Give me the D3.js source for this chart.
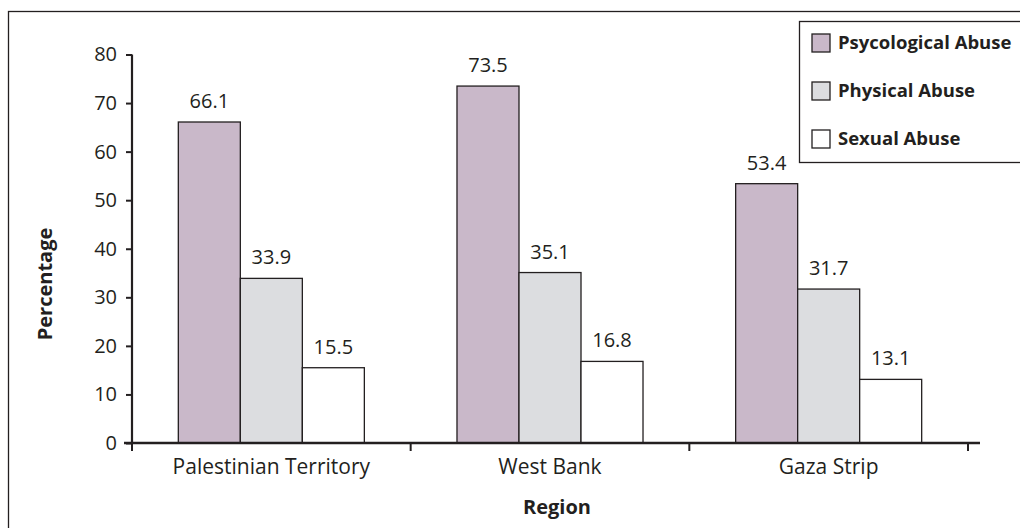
<!DOCTYPE html>
<html>
<head>
<meta charset="utf-8">
<script src="https://cdn.jsdelivr.net/npm/d3@7"></script>
<style>
  html, body { margin: 0; padding: 0; background: #fff; }
  svg text { font-family: "Open Sans", sans-serif; fill: #231f20; }
</style>
</head>
<body>
<svg id="chart" width="1020" height="528"></svg>
<script>
const categories = ["Palestinian Territory", "West Bank", "Gaza Strip"];
const seriesNames = ["Psycological Abuse", "Physical Abuse", "Sexual Abuse"];
const psychological = [66.1, 73.5, 53.4];
const physical = [33.9, 35.1, 31.7];
const sexual = [15.5, 16.8, 13.1];
const yTicks = [0, 10, 20, 30, 40, 50, 60, 70, 80];
const colors = ["#c9b8c9", "#dcdde0", "#ffffff"];

const seriesValues = [psychological, physical, sexual];
const data = categories.map((c, i) => ({
  category: c,
  values: seriesNames.map((s, j) => ({ series: s, value: seriesValues[j][i], idx: j }))
}));

const svg = d3.select("#chart");
const ink = "#231f20";

// outer frame
svg.append("rect").attr("x", 8.5).attr("y", 11.5).attr("width", 1040).attr("height", 560)
  .attr("fill", "none").attr("stroke", ink).attr("stroke-width", 1.3);

const pLeft = 132, pRight = 968, pTop = 54.5, pBottom = 443;

const x0 = d3.scaleBand().domain(categories).range([pLeft, pRight]).paddingInner(0).paddingOuter(0);
const x1 = d3.scaleBand().domain(seriesNames).range([0, x0.bandwidth()]).paddingInner(0).paddingOuter(0.747);
const y = d3.scaleLinear().domain([0, 80]).range([pBottom, pTop]);

// bars
const groups = svg.append("g").selectAll("g").data(data).join("g")
  .attr("transform", d => `translate(${x0(d.category)},0)`);

groups.selectAll("rect").data(d => d.values).join("rect")
  .attr("x", d => x1(d.series))
  .attr("y", d => y(d.value))
  .attr("width", x1.bandwidth())
  .attr("height", d => y(0) - y(d.value))
  .attr("fill", d => colors[d.idx])
  .attr("stroke", ink).attr("stroke-width", 1.3);

groups.selectAll("text.val").data(d => d.values).join("text")
  .attr("class", "val")
  .attr("x", d => x1(d.series) + x1.bandwidth() / 2)
  .attr("y", d => y(d.value) - 14)
  .attr("text-anchor", "middle")
  .style("font-size", "20px")
  .text(d => d.value.toFixed(1));

// y axis
const yAxis = d3.axisLeft(y).tickValues(yTicks).tickSize(6).tickPadding(9);
const gy = svg.append("g").attr("transform", `translate(${pLeft},0)`).call(yAxis);
gy.select(".domain").attr("d", `M0,${pTop}V${pBottom}`).attr("stroke", ink).attr("stroke-width", 2.2);
gy.selectAll(".tick line").attr("stroke", ink).attr("stroke-width", 2);
gy.selectAll(".tick text").style("font-size", "20px").style("font-family", "Open Sans").attr("fill", ink);

// x axis
const xTickPositions = categories.map(c => x0(c)).concat([pRight]);
const gx = svg.append("g");
gx.append("line").attr("x1", pLeft - 8).attr("x2", 980).attr("y1", pBottom).attr("y2", pBottom)
  .attr("stroke", ink).attr("stroke-width", 2.5);
gx.selectAll("line.tick").data(xTickPositions).join("line").attr("class", "tick")
  .attr("x1", d => d).attr("x2", d => d).attr("y1", pBottom).attr("y2", pBottom + 8)
  .attr("stroke", ink).attr("stroke-width", 2);
gx.selectAll("text").data(categories).join("text")
  .attr("x", d => x0(d) + x0.bandwidth() / 2)
  .attr("y", pBottom + 31)
  .attr("text-anchor", "middle")
  .style("font-size", "21px")
  .text(d => d);

// axis titles
svg.append("text").attr("transform", `translate(52,284) rotate(-90)`)
  .attr("text-anchor", "middle").style("font-size", "20px").style("font-weight", "bold")
  .text("Percentage");
svg.append("text").attr("x", 557).attr("y", 514)
  .attr("text-anchor", "middle").style("font-size", "20px").style("font-weight", "bold")
  .text("Region");

// legend
const lg = svg.append("g");
lg.append("rect").attr("x", 799.5).attr("y", 21.5).attr("width", 300).attr("height", 141)
  .attr("fill", "#fff").attr("stroke", ink).attr("stroke-width", 1.3);
const rows = lg.selectAll("g.row").data(seriesNames).join("g").attr("class", "row")
  .attr("transform", (d, i) => `translate(812,${34 + i * 48})`);
rows.append("rect").attr("width", 18).attr("height", 18)
  .attr("fill", (d, i) => colors[i]).attr("stroke", ink).attr("stroke-width", 1.3);
rows.append("text").attr("x", 26).attr("y", 15)
  .style("font-size", "18.5px").style("font-weight", "bold").text(d => d);
</script>
</body>
</html>
